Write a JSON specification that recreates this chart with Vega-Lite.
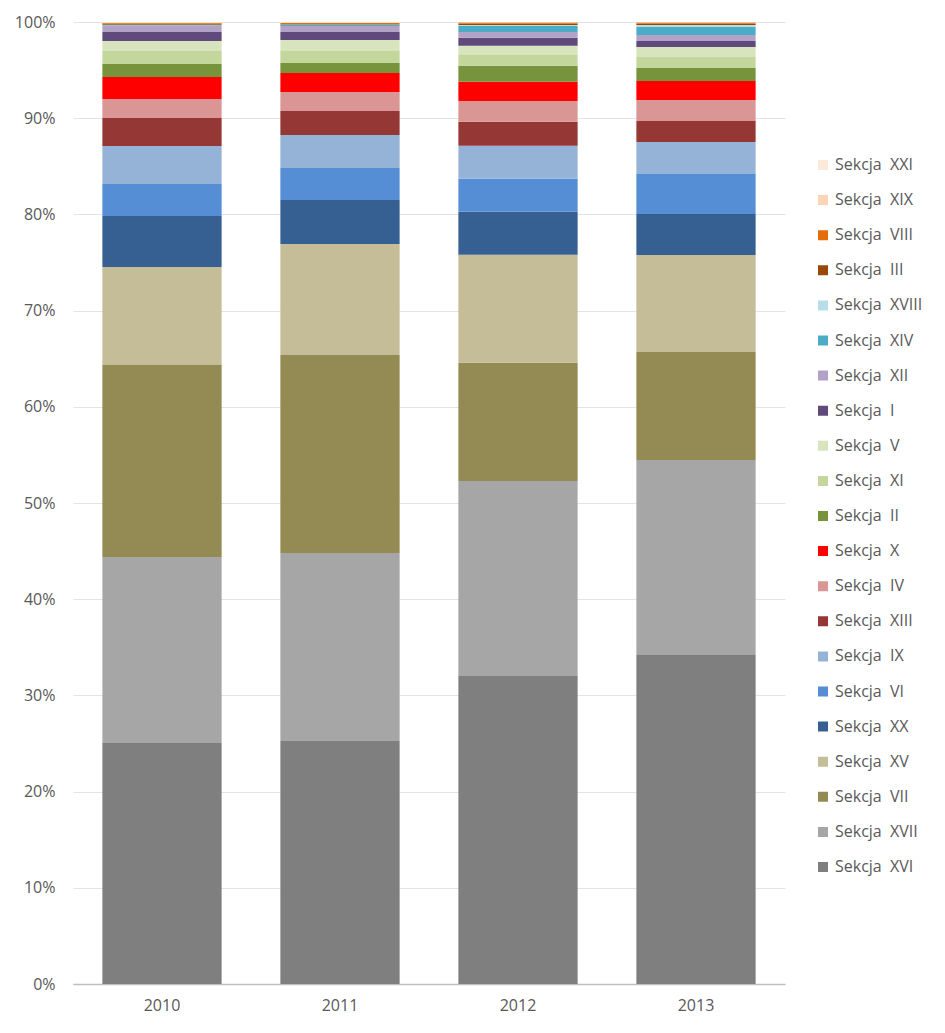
{
  "$schema": "https://vega.github.io/schema/vega-lite/v6.json",
  "width": 712,
  "height": 962,
  "padding": {"left": 73, "top": 22, "right": 160, "bottom": 49},
  "autosize": {"type": "none"},
  "background": "white",
  "config": {"view": {"stroke": null}, "font": "Open Sans"},
  "datasets": {
    "shares": [
      {"year": "2010", "section": "Sekcja\u00a0 XVI", "value": 25.05},
      {"year": "2010", "section": "Sekcja\u00a0 XVII", "value": 19.33},
      {"year": "2010", "section": "Sekcja\u00a0 VII", "value": 19.96},
      {"year": "2010", "section": "Sekcja\u00a0 XV", "value": 10.19},
      {"year": "2010", "section": "Sekcja\u00a0 XX", "value": 5.30},
      {"year": "2010", "section": "Sekcja\u00a0 VI", "value": 3.33},
      {"year": "2010", "section": "Sekcja\u00a0 IX", "value": 3.95},
      {"year": "2010", "section": "Sekcja\u00a0 XIII", "value": 2.91},
      {"year": "2010", "section": "Sekcja\u00a0 IV", "value": 1.98},
      {"year": "2010", "section": "Sekcja\u00a0 X", "value": 2.29},
      {"year": "2010", "section": "Sekcja\u00a0 II", "value": 1.35},
      {"year": "2010", "section": "Sekcja\u00a0 XI", "value": 1.35},
      {"year": "2010", "section": "Sekcja\u00a0 V", "value": 1.04},
      {"year": "2010", "section": "Sekcja\u00a0 I", "value": 0.94},
      {"year": "2010", "section": "Sekcja\u00a0 XII", "value": 0.62},
      {"year": "2010", "section": "Sekcja\u00a0 XIV", "value": 0.08},
      {"year": "2010", "section": "Sekcja\u00a0 XVIII", "value": 0.06},
      {"year": "2010", "section": "Sekcja\u00a0 III", "value": 0.10},
      {"year": "2010", "section": "Sekcja\u00a0 VIII", "value": 0.08},
      {"year": "2010", "section": "Sekcja\u00a0 XIX", "value": 0.06},
      {"year": "2010", "section": "Sekcja\u00a0 XXI", "value": 0.04},

      {"year": "2011", "section": "Sekcja\u00a0 XVI", "value": 25.26},
      {"year": "2011", "section": "Sekcja\u00a0 XVII", "value": 19.54},
      {"year": "2011", "section": "Sekcja\u00a0 VII", "value": 20.58},
      {"year": "2011", "section": "Sekcja\u00a0 XV", "value": 11.54},
      {"year": "2011", "section": "Sekcja\u00a0 XX", "value": 4.57},
      {"year": "2011", "section": "Sekcja\u00a0 VI", "value": 3.33},
      {"year": "2011", "section": "Sekcja\u00a0 IX", "value": 3.43},
      {"year": "2011", "section": "Sekcja\u00a0 XIII", "value": 2.49},
      {"year": "2011", "section": "Sekcja\u00a0 IV", "value": 1.98},
      {"year": "2011", "section": "Sekcja\u00a0 X", "value": 1.98},
      {"year": "2011", "section": "Sekcja\u00a0 II", "value": 1.04},
      {"year": "2011", "section": "Sekcja\u00a0 XI", "value": 1.25},
      {"year": "2011", "section": "Sekcja\u00a0 V", "value": 1.14},
      {"year": "2011", "section": "Sekcja\u00a0 I", "value": 0.83},
      {"year": "2011", "section": "Sekcja\u00a0 XII", "value": 0.62},
      {"year": "2011", "section": "Sekcja\u00a0 XIV", "value": 0.10},
      {"year": "2011", "section": "Sekcja\u00a0 XVIII", "value": 0.06},
      {"year": "2011", "section": "Sekcja\u00a0 III", "value": 0.04},
      {"year": "2011", "section": "Sekcja\u00a0 VIII", "value": 0.12},
      {"year": "2011", "section": "Sekcja\u00a0 XIX", "value": 0.06},
      {"year": "2011", "section": "Sekcja\u00a0 XXI", "value": 0.04},

      {"year": "2012", "section": "Sekcja\u00a0 XVI", "value": 32.02},
      {"year": "2012", "section": "Sekcja\u00a0 XVII", "value": 20.27},
      {"year": "2012", "section": "Sekcja\u00a0 VII", "value": 12.27},
      {"year": "2012", "section": "Sekcja\u00a0 XV", "value": 11.23},
      {"year": "2012", "section": "Sekcja\u00a0 XX", "value": 4.47},
      {"year": "2012", "section": "Sekcja\u00a0 VI", "value": 3.43},
      {"year": "2012", "section": "Sekcja\u00a0 IX", "value": 3.43},
      {"year": "2012", "section": "Sekcja\u00a0 XIII", "value": 2.49},
      {"year": "2012", "section": "Sekcja\u00a0 IV", "value": 2.18},
      {"year": "2012", "section": "Sekcja\u00a0 X", "value": 1.98},
      {"year": "2012", "section": "Sekcja\u00a0 II", "value": 1.66},
      {"year": "2012", "section": "Sekcja\u00a0 XI", "value": 1.14},
      {"year": "2012", "section": "Sekcja\u00a0 V", "value": 0.94},
      {"year": "2012", "section": "Sekcja\u00a0 I", "value": 0.83},
      {"year": "2012", "section": "Sekcja\u00a0 XII", "value": 0.62},
      {"year": "2012", "section": "Sekcja\u00a0 XIV", "value": 0.62},
      {"year": "2012", "section": "Sekcja\u00a0 XVIII", "value": 0.10},
      {"year": "2012", "section": "Sekcja\u00a0 III", "value": 0.12},
      {"year": "2012", "section": "Sekcja\u00a0 VIII", "value": 0.14},
      {"year": "2012", "section": "Sekcja\u00a0 XIX", "value": 0.03},
      {"year": "2012", "section": "Sekcja\u00a0 XXI", "value": 0.02},

      {"year": "2013", "section": "Sekcja\u00a0 XVI", "value": 34.20},
      {"year": "2013", "section": "Sekcja\u00a0 XVII", "value": 20.27},
      {"year": "2013", "section": "Sekcja\u00a0 VII", "value": 11.23},
      {"year": "2013", "section": "Sekcja\u00a0 XV", "value": 10.08},
      {"year": "2013", "section": "Sekcja\u00a0 XX", "value": 4.26},
      {"year": "2013", "section": "Sekcja\u00a0 VI", "value": 4.16},
      {"year": "2013", "section": "Sekcja\u00a0 IX", "value": 3.33},
      {"year": "2013", "section": "Sekcja\u00a0 XIII", "value": 2.18},
      {"year": "2013", "section": "Sekcja\u00a0 IV", "value": 2.18},
      {"year": "2013", "section": "Sekcja\u00a0 X", "value": 1.98},
      {"year": "2013", "section": "Sekcja\u00a0 II", "value": 1.35},
      {"year": "2013", "section": "Sekcja\u00a0 XI", "value": 1.14},
      {"year": "2013", "section": "Sekcja\u00a0 V", "value": 1.04},
      {"year": "2013", "section": "Sekcja\u00a0 I", "value": 0.62},
      {"year": "2013", "section": "Sekcja\u00a0 XII", "value": 0.62},
      {"year": "2013", "section": "Sekcja\u00a0 XIV", "value": 0.83},
      {"year": "2013", "section": "Sekcja\u00a0 XVIII", "value": 0.21},
      {"year": "2013", "section": "Sekcja\u00a0 III", "value": 0.12},
      {"year": "2013", "section": "Sekcja\u00a0 VIII", "value": 0.14},
      {"year": "2013", "section": "Sekcja\u00a0 XIX", "value": 0.03},
      {"year": "2013", "section": "Sekcja\u00a0 XXI", "value": 0.02}
    ]
  },
  "data": {"name": "shares"},
  "transform": [
    {"calculate": "indexof(['Sekcja\u00a0 XVI','Sekcja\u00a0 XVII','Sekcja\u00a0 VII','Sekcja\u00a0 XV','Sekcja\u00a0 XX','Sekcja\u00a0 VI','Sekcja\u00a0 IX','Sekcja\u00a0 XIII','Sekcja\u00a0 IV','Sekcja\u00a0 X','Sekcja\u00a0 II','Sekcja\u00a0 XI','Sekcja\u00a0 V','Sekcja\u00a0 I','Sekcja\u00a0 XII','Sekcja\u00a0 XIV','Sekcja\u00a0 XVIII','Sekcja\u00a0 III','Sekcja\u00a0 VIII','Sekcja\u00a0 XIX','Sekcja\u00a0 XXI'], datum.section)", "as": "stackIndex"}
  ],
  "mark": {"type": "bar", "strokeWidth": 0},
  "encoding": {
    "x": {
      "field": "year",
      "type": "nominal",
      "scale": {"paddingInner": 0.33, "paddingOuter": 0.165},
      "axis": {
        "title": null,
        "labelAngle": 0,
        "labelFontSize": 16,
        "labelColor": "#595959",
        "labelPadding": 13,
        "ticks": false,
        "domainColor": "#BFBFBF",
        "domainWidth": 1.5,
        "grid": false
      }
    },
    "y": {
      "field": "value",
      "type": "quantitative",
      "stack": "normalize",
      "scale": {"domain": [0, 1], "nice": false},
      "axis": {
        "title": null,
        "format": ".0%",
        "values": [0, 0.1, 0.2, 0.3, 0.4, 0.5, 0.6, 0.7, 0.8, 0.9, 1],
        "labelFontSize": 16,
        "labelColor": "#595959",
        "labelPadding": 18,
        "ticks": false,
        "domain": false,
        "grid": true,
        "gridColor": "#E3E3E3",
        "gridWidth": 1.2
      }
    },
    "order": {"field": "stackIndex", "type": "quantitative", "sort": "ascending"},
    "color": {
      "field": "section",
      "type": "nominal",
      "sort": ["Sekcja\u00a0 XXI","Sekcja\u00a0 XIX","Sekcja\u00a0 VIII","Sekcja\u00a0 III","Sekcja\u00a0 XVIII","Sekcja\u00a0 XIV","Sekcja\u00a0 XII","Sekcja\u00a0 I","Sekcja\u00a0 V","Sekcja\u00a0 XI","Sekcja\u00a0 II","Sekcja\u00a0 X","Sekcja\u00a0 IV","Sekcja\u00a0 XIII","Sekcja\u00a0 IX","Sekcja\u00a0 VI","Sekcja\u00a0 XX","Sekcja\u00a0 XV","Sekcja\u00a0 VII","Sekcja\u00a0 XVII","Sekcja\u00a0 XVI"],
      "scale": {
        "domain": ["Sekcja\u00a0 XXI","Sekcja\u00a0 XIX","Sekcja\u00a0 VIII","Sekcja\u00a0 III","Sekcja\u00a0 XVIII","Sekcja\u00a0 XIV","Sekcja\u00a0 XII","Sekcja\u00a0 I","Sekcja\u00a0 V","Sekcja\u00a0 XI","Sekcja\u00a0 II","Sekcja\u00a0 X","Sekcja\u00a0 IV","Sekcja\u00a0 XIII","Sekcja\u00a0 IX","Sekcja\u00a0 VI","Sekcja\u00a0 XX","Sekcja\u00a0 XV","Sekcja\u00a0 VII","Sekcja\u00a0 XVII","Sekcja\u00a0 XVI"],
        "range": ["#FDE9D9","#FCD5B5","#E46C0A","#984807","#B7DEE8","#4BACC6","#B3A2C7","#604A7B","#D7E4BD","#C3D69B","#77933C","#FF0000","#D99694","#953735","#95B3D7","#558ED5","#376092","#C4BD97","#948A54","#A6A6A6","#7F7F7F"]
      },
      "legend": {
        "title": null,
        "orient": "none",
        "legendX": 742,
        "legendY": 135,
        "symbolType": "square",
        "symbolSize": 100,
        "symbolStrokeWidth": 0,
        "labelFontSize": 16,
        "labelColor": "#595959",
        "labelOffset": 4,
        "clipHeight": 16,
        "rowPadding": 19.1,
        "labelLimit": 200
      }
    }
  }
}
